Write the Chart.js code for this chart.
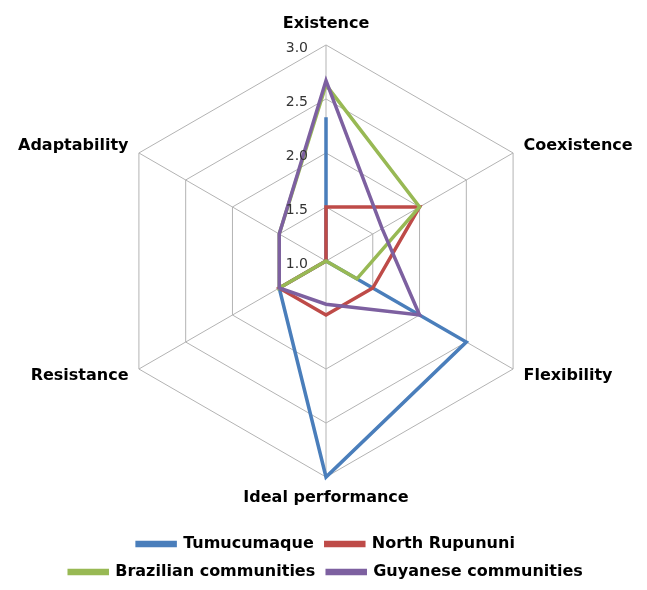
<!DOCTYPE html>
<html>
<head>
<meta charset="utf-8">
<script src="https://cdn.jsdelivr.net/npm/chart.js@4.4.1/dist/chart.umd.min.js"></script>
<style>
  html, body { margin: 0; padding: 0; background: #fff; }
  #wrap { width: 647px; height: 590px; }
</style>
</head>
<body>
<div id="wrap"><canvas id="grafico"></canvas></div>
<script>
// Ejes del radar
const categorias = ["Existence", "Coexistence", "Flexibility", "Ideal performance", "Resistance", "Adaptability"];

// Valores de cada serie
const tumucumaque = [2.33, 1.0, 2.5, 3.0, 1.5, 1.0];
const northRupununi = [1.5, 2.0, 1.5, 1.5, 1.5, 1.0];
const brazilianCommunities = [2.63, 2.0, 1.33, 1.0, 1.5, 1.5];
const guyaneseCommunities = [2.67, 1.6, 2.0, 1.4, 1.5, 1.5];

// Etiquetas de la escala
const etiquetasEscala = [1.0, 1.5, 2.0, 2.5, 3.0];

const fuente = "'DejaVu Sans', Verdana, sans-serif";

// Chart.js omite la etiqueta del centro, asi que las dibujamos aparte
const etiquetasPlugin = {
    id: "etiquetasEscala",
    afterDatasetsDraw(chart) {
        const escala = chart.scales.r;
        const ctx = chart.ctx;
        ctx.save();
        ctx.font = "14px " + fuente;
        ctx.fillStyle = "#333";
        ctx.textAlign = "right";
        ctx.textBaseline = "middle";
        etiquetasEscala.forEach((v) => {
            const p = escala.getPointPositionForValue(0, v);
            ctx.fillText(v.toFixed(1), p.x - 18, p.y + 3);
        });
        ctx.restore();
    },
};

const paddingEtiquetas = [20, 12, 12, 20, 12, 12];

const ctx = document.getElementById("grafico").getContext("2d");
const myChart = new Chart(ctx, {
    type: "radar",
    data: {
        labels: categorias,
        datasets: [
            { label: "Tumucumaque", data: tumucumaque, borderColor: "#4a7ebb", backgroundColor: "#4a7ebb", order: 4 },
            { label: "North Rupununi", data: northRupununi, borderColor: "#be4b48", backgroundColor: "#be4b48", order: 3 },
            { label: "Brazilian communities", data: brazilianCommunities, borderColor: "#98b954", backgroundColor: "#98b954", order: 2 },
            { label: "Guyanese communities", data: guyaneseCommunities, borderColor: "#7d60a0", backgroundColor: "#7d60a0", order: 1 },
        ],
    },
    options: {
        responsive: true,
        maintainAspectRatio: false,
        animation: false,
        layout: { padding: { left: 18, right: 13, top: 0, bottom: 0 } },
        elements: {
            line: { borderWidth: 3.5, fill: false, tension: 0 },
            point: { radius: 0, hoverRadius: 0 },
        },
        plugins: {
            tooltip: { enabled: false },
            legend: {
                position: "bottom",
                labels: {
                    boxWidth: 38,
                    boxHeight: 3,
                    padding: 12,
                    color: "#000",
                    font: { family: fuente, size: 16, weight: "bold" },
                    sort: (a, b) => a.datasetIndex - b.datasetIndex,
                },
            },
        },
        scales: {
            r: {
                min: 1,
                max: 3,
                beginAtZero: false,
                ticks: { stepSize: 0.5, display: false },
                grid: { color: "#b3b3b3", lineWidth: 1, circular: false },
                angleLines: { color: "#b3b3b3", lineWidth: 1 },
                pointLabels: {
                    color: "#000",
                    padding: (c) => paddingEtiquetas[c.index],
                    font: { family: fuente, size: 16, weight: "bold", lineHeight: 0.1 },
                },
            },
        },
    },
    plugins: [etiquetasPlugin],
});
</script>
</body>
</html>
